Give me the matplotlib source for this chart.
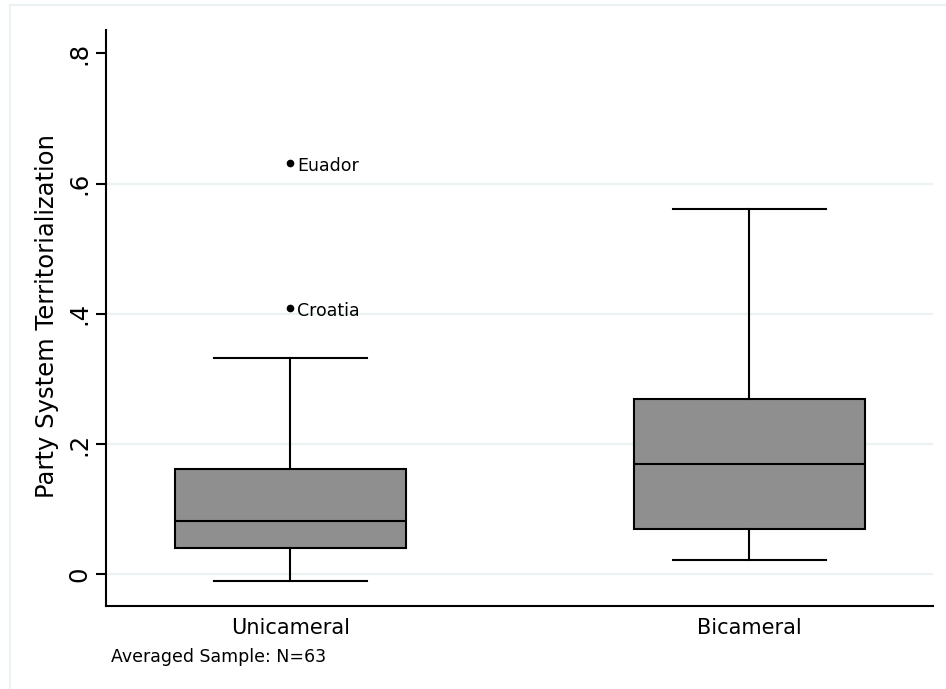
import matplotlib
matplotlib.use("Agg")
import matplotlib.pyplot as plt
from matplotlib.patches import Rectangle

# Summary statistics of party system territorialization by legislature type
categories = ["Unicameral", "Bicameral"]
medians = [0.081, 0.169]
q1s = [0.040, 0.070]
q3s = [0.162, 0.269]
whisker_lo = [-0.011, 0.022]
whisker_hi = [0.332, 0.5605]
outlier_values = [[0.631, 0.4085], []]
outlier_names = [["Euador", "Croatia"], []]

ytick_vals = [0, 0.2, 0.4, 0.6, 0.8]
ytick_labels = ["0", ".2", ".4", ".6", ".8"]
grid_vals = [0, 0.2, 0.4, 0.6]

W, H, DPI = 946, 689, 100
plt.rcParams["font.family"] = ["DejaVu Sans"]
fig = plt.figure(figsize=(W / DPI, H / DPI), dpi=DPI)
fig.patch.set_facecolor("white")

# light outline of the graph region
fig.patches.append(Rectangle((10 / W, -0.05), 1.1, 1.05 - 5 / H,
                             transform=fig.transFigure, fill=False,
                             edgecolor="#EAF2F3", linewidth=1.5, zorder=0))

left, right = 106 / W, 933.3 / W
bottom, top = (H - 605.5) / H, (H - 30) / H
ax = fig.add_axes([left, bottom, right - left, top - bottom])

positions = [1, 2]
stats = []
for i, name in enumerate(categories):
    stats.append(dict(label=name, med=medians[i], q1=q1s[i], q3=q3s[i],
                      whislo=whisker_lo[i], whishi=whisker_hi[i],
                      fliers=outlier_values[i]))

lw = 1.5
ax.bxp(stats, positions=positions, widths=0.504, patch_artist=True,
       showfliers=True,
       boxprops=dict(facecolor="#8F8F8F", edgecolor="black", linewidth=lw),
       medianprops=dict(color="black", linewidth=lw),
       whiskerprops=dict(color="black", linewidth=lw),
       capprops=dict(color="black", linewidth=lw),
       capwidths=0.334,
       flierprops=dict(marker="o", markerfacecolor="black",
                       markeredgecolor="black", markersize=4.5))

for i, pos in enumerate(positions):
    for val, nm in zip(outlier_values[i], outlier_names[i]):
        ax.annotate(nm, (pos, val), xytext=(5, -2), textcoords="offset points",
                    ha="left", va="center", fontsize=12.5)

for g in grid_vals:
    ax.axhline(g, color="#EAF2F3", linewidth=1.6, zorder=0)

ax.set_xlim(0.598, 2.401)
ax.set_ylim(-0.0482, 0.836)
ax.set_yticks(ytick_vals)
ax.set_yticklabels(ytick_labels, rotation=90, va="center", fontsize=17.5)
ax.set_xticks(positions)
ax.set_xticklabels(categories, fontsize=15)
ax.tick_params(axis="x", length=0, pad=9)
ax.tick_params(axis="y", length=7, width=lw, pad=3.5)

for s in ["top", "right"]:
    ax.spines[s].set_visible(False)
for s in ["left", "bottom"]:
    ax.spines[s].set_linewidth(lw)

ax.set_ylabel("Party System Territorialization", fontsize=17.5)
ax.yaxis.label.set_va("center")
ax.yaxis.set_label_coords((47 - 106) / (933.3 - 106), (605.5 - 315.7) / (605.5 - 30))

fig.text(111 / W, (H - 661.7) / H, "Averaged Sample: N=63", fontsize=12.5,
         ha="left", va="baseline")

fig.savefig("out.png", dpi=DPI)
